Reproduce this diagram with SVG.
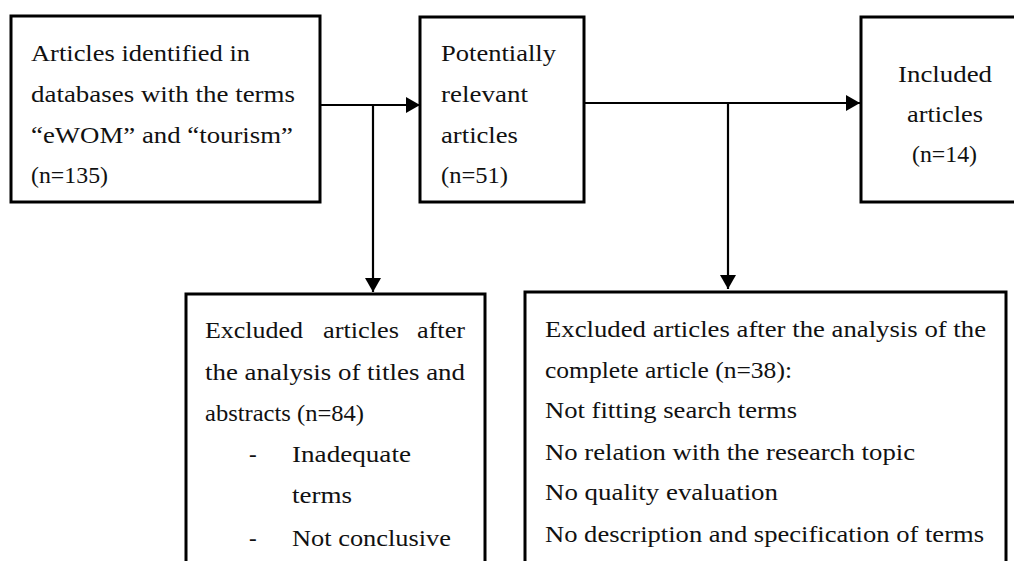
<svg xmlns="http://www.w3.org/2000/svg" width="1014" height="561" viewBox="0 0 1014 561">
<style>
.box{fill:#fff;stroke:#000;stroke-width:3}
.ln{fill:none;stroke:#000;stroke-width:2.2}
text{font-family:"Liberation Serif","Times New Roman",serif;font-size:23px;fill:#111}
</style>
<defs>
<marker id="ah" viewBox="0 0 14 16" refX="14" refY="8" markerWidth="14" markerHeight="16" markerUnits="userSpaceOnUse" orient="auto">
<path d="M0,0 L14,8 L0,16 Z" fill="#000"/>
</marker>
</defs>
<rect width="1014" height="561" fill="#fff"/>
<g id="connectors">
<line class="ln" x1="320" y1="105" x2="420" y2="105" marker-end="url(#ah)"/>
<line class="ln" x1="373" y1="105" x2="373" y2="292" marker-end="url(#ah)"/>
<line class="ln" x1="584" y1="103" x2="860" y2="103" marker-end="url(#ah)"/>
<line class="ln" x1="728" y1="103" x2="728" y2="289" marker-end="url(#ah)"/>
</g>
<g id="node-identified">
<rect class="box" x="11" y="16" width="309" height="186"/>
<text x="31" y="61" textLength="219" lengthAdjust="spacingAndGlyphs">Articles identified in</text>
<text x="31" y="102" textLength="264" lengthAdjust="spacingAndGlyphs">databases with the terms</text>
<text x="31" y="143" textLength="262" lengthAdjust="spacingAndGlyphs">“eWOM” and “tourism”</text>
<text x="31" y="183" textLength="77" lengthAdjust="spacingAndGlyphs">(n=135)</text>
</g>
<g id="node-relevant">
<rect class="box" x="420" y="17" width="164" height="185"/>
<text x="441" y="61" textLength="115" lengthAdjust="spacingAndGlyphs">Potentially</text>
<text x="441" y="102" textLength="87" lengthAdjust="spacingAndGlyphs">relevant</text>
<text x="441" y="143" textLength="77" lengthAdjust="spacingAndGlyphs">articles</text>
<text x="441" y="183" textLength="67" lengthAdjust="spacingAndGlyphs">(n=51)</text>
</g>
<g id="node-included">
<rect class="box" x="861" y="17" width="160" height="185"/>
<text x="898" y="82" textLength="94" lengthAdjust="spacingAndGlyphs">Included</text>
<text x="907" y="122" textLength="76" lengthAdjust="spacingAndGlyphs">articles</text>
<text x="912" y="162" textLength="65" lengthAdjust="spacingAndGlyphs">(n=14)</text>
</g>
<g id="node-excluded-titles">
<rect class="box" x="186" y="294" width="299" height="280"/>
<text x="205" y="338" textLength="98" lengthAdjust="spacingAndGlyphs">Excluded</text>
<text x="323" y="338" textLength="76" lengthAdjust="spacingAndGlyphs">articles</text>
<text x="417" y="338" textLength="48" lengthAdjust="spacingAndGlyphs">after</text>
<text x="205" y="380" textLength="260" lengthAdjust="spacingAndGlyphs">the analysis of titles and</text>
<text x="205" y="421" textLength="159" lengthAdjust="spacingAndGlyphs">abstracts (n=84)</text>
<text x="249" y="462">-</text>
<text x="292" y="462" textLength="119" lengthAdjust="spacingAndGlyphs">Inadequate</text>
<text x="292" y="503" textLength="60" lengthAdjust="spacingAndGlyphs">terms</text>
<text x="249" y="546">-</text>
<text x="292" y="546" textLength="159" lengthAdjust="spacingAndGlyphs">Not conclusive</text>
</g>
<g id="node-excluded-complete">
<rect class="box" x="525" y="292" width="481" height="282"/>
<text x="545" y="337" textLength="441" lengthAdjust="spacingAndGlyphs">Excluded articles after the analysis of the</text>
<text x="545" y="378" textLength="247" lengthAdjust="spacingAndGlyphs">complete article (n=38):</text>
<text x="545" y="418" textLength="252" lengthAdjust="spacingAndGlyphs">Not fitting search terms</text>
<text x="545" y="460" textLength="370" lengthAdjust="spacingAndGlyphs">No relation with the research topic</text>
<text x="545" y="500" textLength="233" lengthAdjust="spacingAndGlyphs">No quality evaluation</text>
<text x="545" y="542" textLength="439" lengthAdjust="spacingAndGlyphs">No description and specification of terms</text>
</g>
</svg>
